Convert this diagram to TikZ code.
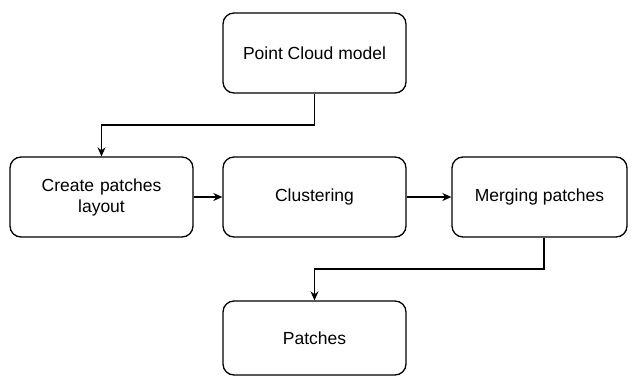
\documentclass[tikz,border=0pt]{standalone}
\usepackage{fontspec}
\setmainfont{Liberation Sans}
\usetikzlibrary{arrows.meta}
\begin{document}
\begin{tikzpicture}[x=1pt,y=-1pt,
  box/.style={draw=black,line width=1.3pt,rounded corners=11pt,fill=white,align=center,font=\fontsize{17.5}{21}\selectfont},
  conn/.style={draw=black,line width=1.3pt,-{Stealth[length=9pt,width=8pt]}}]
\useasboundingbox (0,0) rectangle (632,377);
\node[box,minimum width=183pt,minimum height=80pt] (pcb) at (314.5,53) {Point Cloud model};
\node[box,minimum width=183pt,minimum height=80pt,text width=170pt] (cp) at (101.5,197) {Create patches\\layout};
\node[box,minimum width=183pt,minimum height=80pt] (cl) at (314.5,197) {Clustering};
\node[box,minimum width=175pt,minimum height=80pt] (mp) at (539.5,197) {Merging patches};
\node[box,minimum width=183pt,minimum height=74pt] (pa) at (314.5,338) {Patches};
\coordinate (c1) at (315,125);
\coordinate (c2) at (544,269);
\draw[conn] (pcb.south) -- (pcb.south |- c1) -| (cp.north);
\draw[conn] (cp.east) -- (cl.west);
\draw[conn] (cl.east) -- (mp.west);
\draw[conn] (mp.south -| c2) -- (c2) -| (pa.north);
\end{tikzpicture}
\end{document}
